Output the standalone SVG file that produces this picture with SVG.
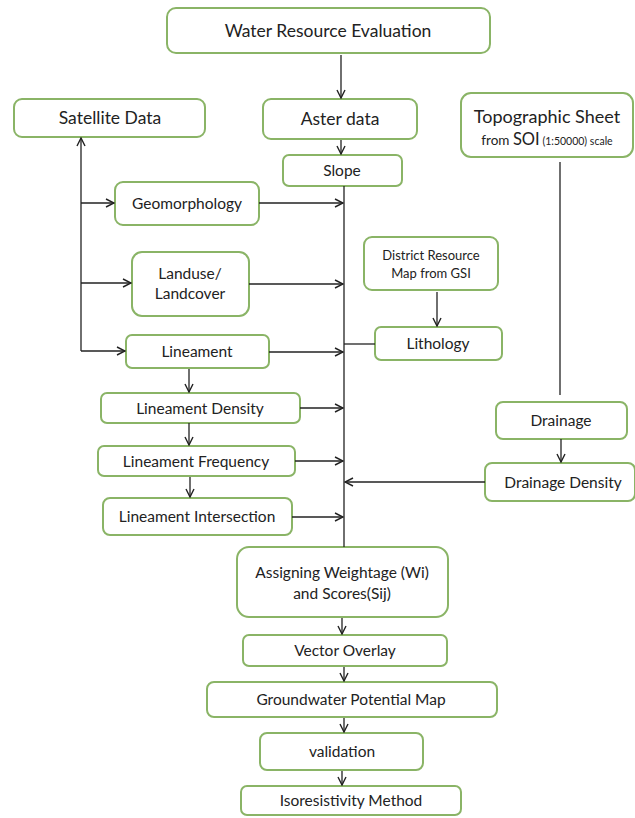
<svg xmlns="http://www.w3.org/2000/svg" width="635" height="818" viewBox="0 0 635 818">
<defs>
<marker id="ah" viewBox="0 0 10 10" refX="9" refY="5" markerWidth="10" markerHeight="10" markerUnits="userSpaceOnUse" orient="auto">
<polyline points="1,1 9,5 1,9" fill="none" stroke="#222" stroke-width="1.4"/>
</marker>
<style>
.n rect{fill:#fff;stroke:#8ab466;stroke-width:2}
text{font-family:Lato,"Open Sans","Liberation Sans",sans-serif;fill:#222;text-anchor:middle}
.c line,.c polyline{stroke:#222;stroke-width:1.3;fill:none}
.a{marker-end:url(#ah)}
</style>
</defs>
<rect width="635" height="818" fill="#fff"/>
<g id="water"><g class="n"><rect x="167" y="8" width="323" height="45" rx="9"/></g><text x="328" y="37" font-size="17.5">Water Resource Evaluation</text></g>
<g id="satellite"><g class="n"><rect x="14" y="99" width="191" height="38" rx="8"/></g><text x="110" y="124" font-size="17.5">Satellite Data</text></g>
<g id="aster"><g class="n"><rect x="263" y="99" width="154" height="40" rx="8"/></g><text x="340" y="125" font-size="17.5">Aster data</text></g>
<g id="slope"><g class="n"><rect x="283" y="155" width="119" height="31" rx="6"/></g><text x="342" y="176" font-size="15.5">Slope</text></g>
<g id="topo"><g class="n"><rect x="461" y="93" width="172" height="64" rx="10"/></g><text x="547" y="123" font-size="18">Topographic Sheet</text><text x="547" y="145"><tspan font-size="13.5">from </tspan><tspan font-size="16.5">SOI</tspan><tspan font-size="10.5"> (1:50000) scale</tspan></text></g>
<g id="geomorphology"><g class="n"><rect x="115" y="182" width="144" height="43" rx="8"/></g><text x="187" y="209" font-size="15.5">Geomorphology</text></g>
<g id="landuse"><g class="n"><rect x="132" y="252" width="117" height="64" rx="10"/></g><text x="190" y="279" font-size="15.5">Landuse/</text><text x="190" y="299" font-size="15.5">Landcover</text></g>
<g id="district"><g class="n"><rect x="364" y="237" width="134" height="53" rx="8"/></g><text x="431" y="260" font-size="13">District Resource</text><text x="431" y="278" font-size="13">Map from GSI</text></g>
<g id="lineament"><g class="n"><rect x="126" y="335" width="143" height="33" rx="6"/></g><text x="197" y="357" font-size="15.5">Lineament</text></g>
<g id="lithology"><g class="n"><rect x="375" y="327" width="127" height="33" rx="6"/></g><text x="438" y="349" font-size="15.5">Lithology</text></g>
<g id="lindensity"><g class="n"><rect x="101" y="393" width="199" height="30" rx="6"/></g><text x="200" y="414" font-size="15.5">Lineament Density</text></g>
<g id="drainage"><g class="n"><rect x="496" y="402" width="131" height="37" rx="7"/></g><text x="561" y="426" font-size="15.5">Drainage</text></g>
<g id="linfreq"><g class="n"><rect x="98" y="446" width="197" height="30" rx="6"/></g><text x="196" y="467" font-size="15.5">Lineament Frequency</text></g>
<g id="draindensity"><g class="n"><rect x="485" y="463" width="150" height="38" rx="7"/></g><text x="563" y="488" font-size="15.5">Drainage Density</text></g>
<g id="lininter"><g class="n"><rect x="103" y="498" width="189" height="37" rx="7"/></g><text x="197" y="522" font-size="15.5">Lineament Intersection</text></g>
<g id="assigning"><g class="n"><rect x="237" y="547" width="211" height="70" rx="12"/></g><text x="342" y="578" font-size="15.5">Assigning Weightage (Wi)</text><text x="342" y="599" font-size="15.5">and Scores(Sij)</text></g>
<g id="vector"><g class="n"><rect x="243" y="635" width="204" height="31" rx="6"/></g><text x="345" y="656" font-size="15.5">Vector Overlay</text></g>
<g id="groundwater"><g class="n"><rect x="207" y="682" width="290" height="35" rx="7"/></g><text x="351" y="705" font-size="15.5">Groundwater Potential Map</text></g>
<g id="validation"><g class="n"><rect x="260" y="733" width="163" height="37" rx="7"/></g><text x="342" y="757" font-size="15.5">validation</text></g>
<g id="isores"><g class="n"><rect x="241" y="786" width="220" height="29" rx="6"/></g><text x="351" y="806" font-size="15.5">Isoresistivity Method</text></g>
<g id="connectors" class="c">
<line class="a" x1="341" y1="55" x2="341" y2="98"/>
<line class="a" x1="341" y1="140" x2="341" y2="154"/>
<line x1="344" y1="186" x2="344" y2="547"/>
<line class="a" x1="81" y1="351" x2="81" y2="138"/>
<line class="a" x1="81" y1="203" x2="114" y2="203"/>
<line class="a" x1="81" y1="283" x2="131" y2="283"/>
<line class="a" x1="81" y1="351" x2="125" y2="351"/>
<line class="a" x1="259" y1="203" x2="343" y2="203"/>
<line class="a" x1="249" y1="284" x2="343" y2="284"/>
<line class="a" x1="269" y1="352" x2="343" y2="352"/>
<line x1="375" y1="344" x2="344" y2="344"/>
<line class="a" x1="437" y1="292" x2="437" y2="326"/>
<line class="a" x1="189" y1="369" x2="189" y2="392"/>
<line class="a" x1="300" y1="408" x2="343" y2="408"/>
<line class="a" x1="189" y1="423" x2="189" y2="445"/>
<line class="a" x1="295" y1="461" x2="343" y2="461"/>
<line class="a" x1="190" y1="477" x2="190" y2="497"/>
<line class="a" x1="292" y1="517" x2="343" y2="517"/>
<line x1="560" y1="162" x2="560" y2="395"/>
<line class="a" x1="561" y1="439" x2="561" y2="462"/>
<line class="a" x1="485" y1="482" x2="345" y2="482"/>
<line class="a" x1="342" y1="618" x2="342" y2="634"/>
<line class="a" x1="344" y1="667" x2="344" y2="681"/>
<line class="a" x1="344" y1="718" x2="344" y2="732"/>
<line class="a" x1="342" y1="771" x2="342" y2="785"/>
</g>
</svg>
